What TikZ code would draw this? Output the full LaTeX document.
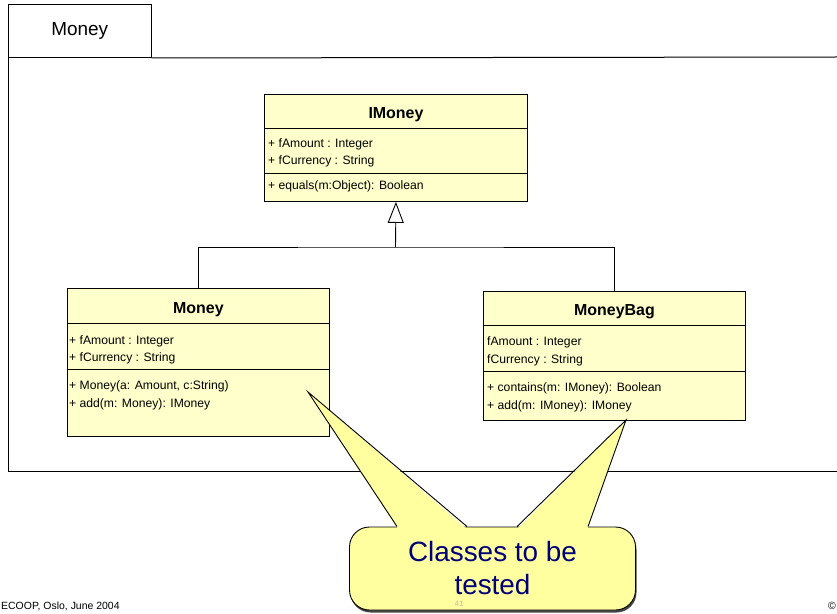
\documentclass[tikz,border=0pt]{standalone}
\usepackage{fontspec}
\setmainfont{Liberation Sans}
\usetikzlibrary{arrows.meta,calc}
\definecolor{classfill}{RGB}{255,255,204}
\definecolor{notefill}{RGB}{255,255,160}
\definecolor{notetext}{RGB}{0,0,120}
\definecolor{shadowgray}{RGB}{70,70,70}
\begin{document}
\begin{tikzpicture}[x=1bp,y=-1bp,
  frameline/.style={draw=black, line width=1bp},
  classbox/.style={draw=black, fill=classfill, line width=0.9bp, inner sep=0pt, anchor=north west},
  classname/.style={font=\fontsize{16}{18}\selectfont\bfseries, anchor=base, inner sep=0pt},
  member/.style={font=\fontsize{12.2}{14}\selectfont, anchor=base west, inner sep=0pt},
  sepline/.style={draw=black, line width=0.9bp},
  inherit/.style={draw=black, line width=0.9bp},
  notebox/.style={fill=notefill, draw=black, line width=0.9bp, rounded corners=20bp,
    minimum width=286bp, minimum height=83bp, inner sep=0pt},
  notewedge/.style={fill=notefill},
  wedgeside/.style={draw=black, line width=0.9bp},
  notelabel/.style={font=\fontsize{28}{33}\selectfont, text=notetext, align=center, inner sep=0pt},
  footer/.style={font=\fontsize{10.5}{12}\selectfont, inner sep=0pt}
]
\useasboundingbox (0,0) rectangle (837,614);

% package frame with its name tab
\node[frameline, minimum width=142.5bp, minimum height=53bp, anchor=north west,
      inner sep=0pt, font=\fontsize{19}{22}\selectfont] (tab) at (8,4) {Money};
\coordinate (frameTR) at (837,57);
\coordinate (frameBL) at (8,471);
\coordinate (frameBR) at (837,471);
\draw[frameline] (tab.south east) -- (frameTR);
\draw[frameline] (tab.south west) -- (frameBL) -- (frameBR);

% class IMoney
\node[classbox, minimum width=263bp, minimum height=107bp] (imoney) at (264,94) {};
\node[classname] (imoney-name) at ($(imoney.north)+(0,24.5)$) {IMoney};
\draw[sepline] ($(imoney.north west)+(0,34)$) -- ($(imoney.north east)+(0,34)$);
\draw[sepline] ($(imoney.north west)+(0,79)$) -- ($(imoney.north east)+(0,79)$);
\node[member] (imoney-a1) at ($(imoney.north west)+(4,54)$) {+ fAmount : Integer};
\node[member] (imoney-a2) at ($(imoney.north west)+(4,71)$) {+ fCurrency : String};
\node[member] (imoney-m1) at ($(imoney.north west)+(4,96)$) {+ equals(m:Object): Boolean};

% class Money
\node[classbox, minimum width=262bp, minimum height=148bp] (money) at (67,288) {};
\node[classname] (money-name) at ($(money.north)+(0,25)$) {Money};
\draw[sepline] ($(money.north west)+(0,35)$) -- ($(money.north east)+(0,35)$);
\draw[sepline] ($(money.north west)+(0,81)$) -- ($(money.north east)+(0,81)$);
\node[member] (money-a1) at ($(money.north west)+(2,56)$) {+ fAmount : Integer};
\node[member] (money-a2) at ($(money.north west)+(2,73)$) {+ fCurrency : String};
\node[member] (money-m1) at ($(money.north west)+(2,101)$) {+ Money(a: Amount, c:String)};
\node[member] (money-m2) at ($(money.north west)+(2,119)$) {+ add(m: Money): IMoney};

% class MoneyBag
\node[classbox, minimum width=262bp, minimum height=129bp] (moneybag) at (483,291) {};
\node[classname] (moneybag-name) at ($(moneybag.north)+(0,24.5)$) {MoneyBag};
\draw[sepline] ($(moneybag.north west)+(0,34)$) -- ($(moneybag.north east)+(0,34)$);
\draw[sepline] ($(moneybag.north west)+(0,80)$) -- ($(moneybag.north east)+(0,80)$);
\node[member] (moneybag-a1) at ($(moneybag.north west)+(4,54)$) {fAmount : Integer};
\node[member] (moneybag-a2) at ($(moneybag.north west)+(4,72)$) {fCurrency : String};
\node[member] (moneybag-m1) at ($(moneybag.north west)+(4,100)$) {+ contains(m: IMoney): Boolean};
\node[member] (moneybag-m2) at ($(moneybag.north west)+(4,118)$) {+ add(m: IMoney): IMoney};

% generalization tree
\coordinate (split) at (395.5,247);
\draw[inherit] (money.north) |- (split) -| (moneybag.north);
\draw[inherit, -{Triangle[open, length=21bp, width=16bp, line width=0.9bp]}]
  (split) -- (imoney.south);

% callout
\node[notebox, fill=shadowgray, draw=none] (callout-shadow) at (493.5,571) {};
\node[notebox] (callout) at (492.5,568.5) {};
\coordinate (tipL) at (308,392);
\coordinate (tipR) at (626,420);
\coordinate (baseL1) at ($(callout.north west)+(48,0)$);
\coordinate (baseL2) at ($(callout.north west)+(118,0)$);
\coordinate (baseR1) at ($(callout.north west)+(168,0)$);
\coordinate (baseR2) at ($(callout.north west)+(239,0)$);
\fill[notewedge] (tipL) -- ($(baseL1)+(0.6,2)$) -- ($(baseL2)+(-0.6,2)$) -- cycle;
\fill[notewedge] (tipR) -- ($(baseR1)+(0.6,2)$) -- ($(baseR2)+(-0.6,2)$) -- cycle;
\draw[wedgeside] (baseL1) -- (tipL) -- (baseL2);
\draw[wedgeside] (baseR1) -- (tipR) -- (baseR2);
\node[notelabel] (callout-text) at (492.5,568) {Classes to be\\tested};

% slide footer
\node[footer, anchor=base west] (footer-left) at (1,609) {ECOOP, Oslo, June 2004};
\node[footer, text=black!25, font=\fontsize{8}{9}\selectfont] (footer-page) at (459,604) {41};
\node[footer] (footer-right) at (832,606) {©};
\end{tikzpicture}
\end{document}
